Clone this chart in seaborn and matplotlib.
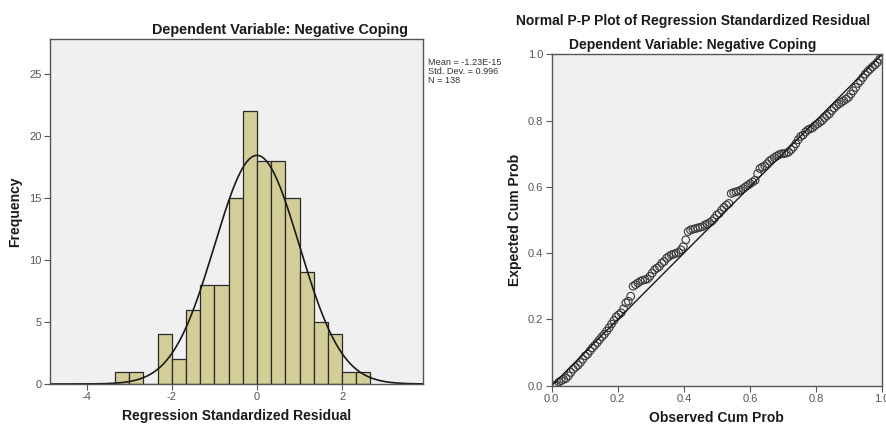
import numpy as np
import pandas as pd
import matplotlib
matplotlib.use("Agg")
import matplotlib.pyplot as plt
import seaborn as sns

# ---------------- data ----------------
# Histogram of regression standardized residuals (bin width 1/3)
bin_edges = [-10/3, -3.0, -8/3, -7/3, -2.0, -5/3, -4/3, -1.0, -2/3, -1/3, 0.0,
             1/3, 2/3, 1.0, 4/3, 5/3, 2.0, 7/3, 8/3]
bin_counts = [1, 1, 0, 4, 2, 6, 8, 8, 15, 22, 18, 18, 15, 9, 5, 4, 1, 1]

res_mean = -1.23e-15
res_sd = 0.996
res_n = 138

# Normal P-P plot: expected cumulative probability, sorted by rank
expected_cum_prob = [
    0.001, 0.003, 0.011, 0.015, 0.019, 0.022, 0.030, 0.040,
    0.050, 0.056, 0.062, 0.070, 0.080, 0.090,
    0.095, 0.105, 0.114, 0.122, 0.130, 0.139, 0.148, 0.155,
    0.165, 0.175, 0.186, 0.197, 0.208, 0.214, 0.220, 0.232,
    0.250, 0.255, 0.270, 0.300, 0.305, 0.310, 0.315, 0.318, 0.320, 0.322,
    0.330, 0.340, 0.350, 0.355, 0.360,
    0.370, 0.375, 0.385, 0.390, 0.395, 0.397, 0.400, 0.402, 0.410, 0.420,
    0.440, 0.465, 0.470, 0.472, 0.474, 0.476, 0.478, 0.480, 0.485, 0.488,
    0.492, 0.497,
    0.505, 0.515, 0.520, 0.530, 0.538, 0.545, 0.550, 0.580, 0.583, 0.585,
    0.587, 0.590, 0.595, 0.600, 0.605, 0.610, 0.615, 0.620,
    0.640, 0.655, 0.660, 0.663, 0.670, 0.678, 0.683, 0.688, 0.693, 0.697,
    0.700, 0.700, 0.702, 0.705, 0.712, 0.720, 0.730, 0.742,
    0.752, 0.756, 0.765, 0.772, 0.775, 0.778, 0.785, 0.790, 0.795, 0.800,
    0.808, 0.815, 0.820, 0.830, 0.838,
    0.845, 0.850, 0.855, 0.860, 0.865, 0.870, 0.880, 0.890, 0.900,
    0.912, 0.920, 0.930, 0.940, 0.948,
    0.955, 0.962, 0.968, 0.975,
    0.985, 0.993,
]
ranks = np.arange(1, len(expected_cum_prob) + 1)
observed_cum_prob = ranks / len(expected_cum_prob)

hist_title = "Dependent Variable: Negative Coping"
pp_title = "Normal P-P Plot of Regression Standardized Residual"
stats_text = "Mean = -1.23E-15\nStd. Dev. = 0.996\nN = 138"

# ---------------- style ----------------
sns.set_theme(style="white")
plt.rcParams["font.family"] = ["Liberation Sans", "DejaVu Sans"]

BG = "#F0F0F0"
BAR = "#D3CE97"
TICKC = "#555555"

fig = plt.figure(figsize=(8.87, 4.26), dpi=100)
fig.patch.set_facecolor("white")

ax1 = fig.add_axes([50/887, 1 - 384/426, 373/887, 345/426])
ax2 = fig.add_axes([551.7/887, 1 - 385.7/426, 330.3/887, 331.4/426])

for ax in (ax1, ax2):
    ax.set_facecolor(BG)
    for s in ax.spines.values():
        s.set_color("#555555")
        s.set_linewidth(1.0)
    ax.tick_params(axis="both", which="both", direction="out", length=4,
                   width=0.8, color=TICKC, labelcolor=TICKC, labelsize=8,
                   pad=2, left=True, bottom=True)

# ---------------- histogram ----------------
centers = [(bin_edges[i] + bin_edges[i + 1]) / 2 for i in range(len(bin_counts))]
hist_df = pd.DataFrame({"resid": centers, "count": bin_counts})
sns.histplot(data=hist_df, x="resid", weights="count", bins=bin_edges,
             color=BAR, edgecolor="#2a2a2a", linewidth=0.9, alpha=1.0, ax=ax1)

xs = np.linspace(-4.86, 3.9, 400)
width = bin_edges[1] - bin_edges[0]
curve = res_n * width * np.exp(-0.5 * ((xs - res_mean) / res_sd) ** 2) / (res_sd * np.sqrt(2 * np.pi))
sns.lineplot(x=xs, y=curve, color="#1a1a1a", linewidth=1.2, ax=ax1)

ax1.set_xlim(-4.86, 3.9)
ax1.set_ylim(0, 27.8)
ax1.set_xticks([-4, -2, 0, 2])
ax1.set_xticklabels(["-4", "-2", "0", "2"])
ax1.set_yticks([0, 5, 10, 15, 20, 25])
ax1.set_xlabel("Regression Standardized Residual", fontsize=10, fontweight="bold",
               color="#1a1a1a", labelpad=5)
ax1.set_ylabel("Frequency", fontsize=10, fontweight="bold", color="#1a1a1a", labelpad=5)

fig.text(280/887, 1 - 30/426, hist_title, ha="center", va="center",
         fontsize=10.4, fontweight="bold", color="#1a1a1a")
fig.text(428/887, 1 - 58/426, stats_text, ha="left", va="top",
         fontsize=6.6, color="#333333", linespacing=1.0)

# ---------------- P-P plot ----------------
sns.lineplot(x=[0, 1], y=[0, 1], color="#1a1a1a", linewidth=1.0, ax=ax2)
pp_df = pd.DataFrame({"obs": observed_cum_prob, "exp": expected_cum_prob})
sns.scatterplot(data=pp_df, x="obs", y="exp", marker="o", s=30,
                facecolors="none", edgecolor="#3a3a3a", linewidth=0.8, ax=ax2)

ax2.set_xlim(0, 1)
ax2.set_ylim(0, 1)
ticks = [0.0, 0.2, 0.4, 0.6, 0.8, 1.0]
ax2.set_xticks(ticks)
ax2.set_yticks(ticks)
ax2.set_xticklabels([f"{t:.1f}" for t in ticks])
ax2.set_yticklabels([f"{t:.1f}" for t in ticks])
ax2.set_xlabel("Observed Cum Prob", fontsize=10, fontweight="bold",
               color="#1a1a1a", labelpad=5)
ax2.set_ylabel("Expected Cum Prob", fontsize=10, fontweight="bold",
               color="#1a1a1a", labelpad=4)

fig.text(693/887, 1 - 21/426, pp_title, ha="center", va="center",
         fontsize=10, fontweight="bold", color="#1a1a1a")
fig.text(693/887, 1 - 45/426, hist_title, ha="center", va="center",
         fontsize=10, fontweight="bold", color="#1a1a1a")

fig.savefig("out.png", dpi=100, facecolor="white")
